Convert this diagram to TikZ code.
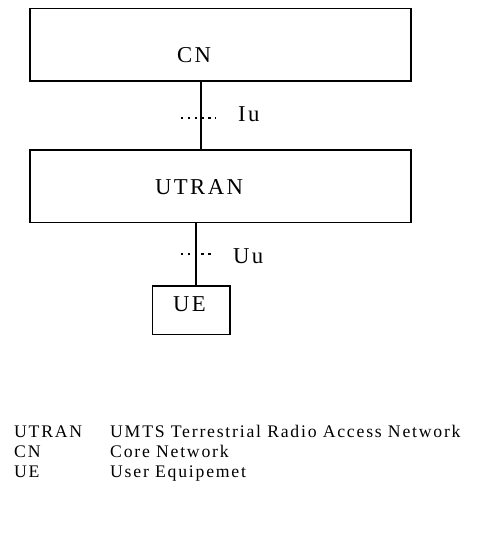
\documentclass[tikz,border=0pt]{standalone}
\usepackage{fontspec}
\setmainfont{Liberation Serif}
\newfontfamily\boxfont[LetterSpace=10.5]{Liberation Serif}
\newfontfamily\keyfont[LetterSpace=10]{Liberation Serif}
\begin{document}
\begin{tikzpicture}[x=1pt,y=-1pt,
	entity/.style={draw,line width=1.1pt,inner sep=0pt},
	boxlabel/.style={inner sep=0pt,anchor=base west,font=\boxfont\fontsize{22.7}{27}\selectfont},
	key/.style={inner sep=0pt,anchor=base west,font=\keyfont\fontsize{17.7}{20}\selectfont},
	iface/.style={line width=1.4pt,dash pattern=on 2.4pt off 4.4pt}]
		\useasboundingbox (0,0) rectangle (489,553);
		\node[entity,minimum width=381pt,minimum height=72.7pt] (cn) at (220.5,44.65) {};
		\node[entity,minimum width=381pt,minimum height=72.7pt] (utran) at (220.5,186.35) {};
		\node[entity,minimum width=77.3pt,minimum height=48.3pt] (ue) at (191.35,310.15) {};
		\node[boxlabel] (cntext) at (177,63) {CN};
		\node[boxlabel] (utrantext) at (155,195) {UTRAN};
		\node[boxlabel] (uetext) at (173,311) {UE};
		\coordinate (iutop) at ([xshift=-19.5pt]cn.south);
		\coordinate (uutop) at ([xshift=-24.5pt]utran.south);
		\draw[line width=1.1pt] (iutop) -- (iutop |- utran.north);
		\draw[line width=1.1pt] (uutop) -- (uutop |- ue.north);
		\draw[iface] (181,118) -- (216,118);
		\draw[iface] (181,254) -- (214,254);
		\node[boxlabel] (iu) at (238,122) {Iu};
		\node[boxlabel] (uu) at (233,263) {Uu};
		\foreach \abbr/\full [count=\i] in {UTRAN/UMTS Terrestrial Radio Access Network,CN/Core Network,UE/User Equipemet}
		{
		\node[key] (abbr\i) at (14,417+20*\i) {\abbr};
		\node[key] (full\i) at (110,417+20*\i) {\full};
		}
	\end{tikzpicture}
\end{document}
